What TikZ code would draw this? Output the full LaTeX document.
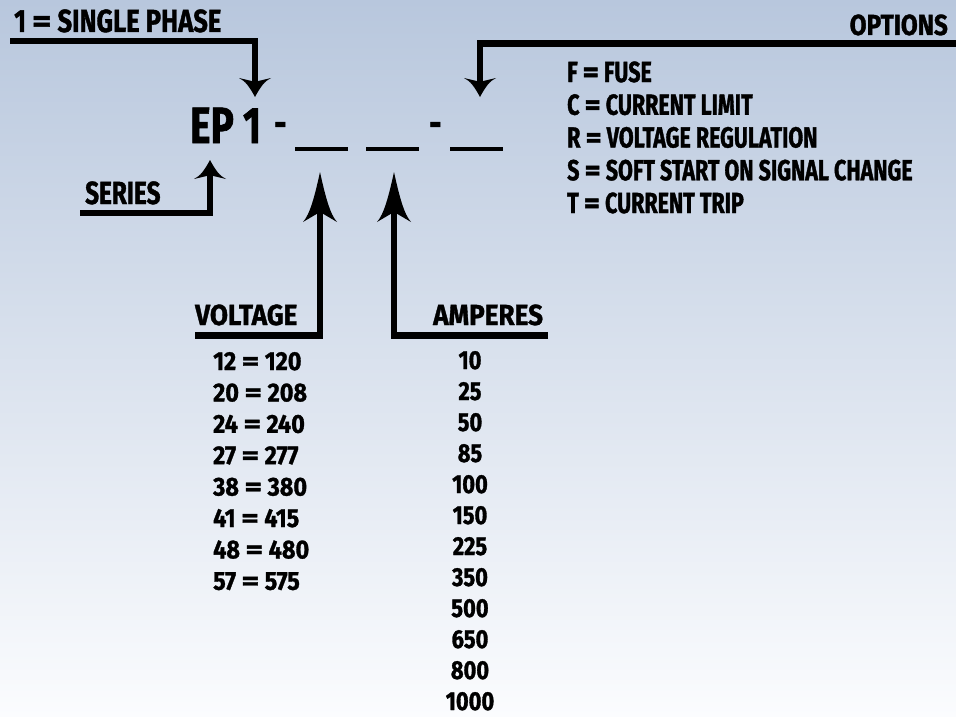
\documentclass[tikz,border=0pt]{standalone}
\usepackage{fontspec}
\usepackage{graphicx}
\newfontfamily\cfa{Fira Sans}[FakeStretch=0.76,FakeBold=1.2]
\newfontfamily\cfo{Fira Sans}[FakeStretch=0.74,FakeBold=1.2]
\newfontfamily\cfb{Fira Sans}[FakeStretch=0.80,FakeBold=1.2]
\newfontfamily\cfc{Fira Sans}[FakeStretch=0.84,FakeBold=1.2]
\newfontfamily\cfd{Fira Sans}[FakeStretch=0.90,FakeBold=1.2]
\usetikzlibrary{arrows.meta}
\pgfdeclarearrow{
  name = Spike,
  defaults = {length = 18pt, width = 32pt},
  setup code = {
    \pgfarrowssettipend{0pt}
    \pgfarrowssetlineend{-0.6\pgfarrowlength}
    \pgfarrowssetbackend{-\pgfarrowlength}
    \pgfarrowssavethe\pgfarrowlength
    \pgfarrowssavethe\pgfarrowwidth
  },
  drawing code = {
    \pgfpathmoveto{\pgfqpoint{0pt}{0pt}}
    \pgfpathcurveto{\pgfqpoint{-0.5\pgfarrowlength}{0.16\pgfarrowwidth}}{\pgfqpoint{-0.85\pgfarrowlength}{0.3\pgfarrowwidth}}{\pgfqpoint{-\pgfarrowlength}{0.5\pgfarrowwidth}}
    \pgfpathlineto{\pgfqpoint{-0.8\pgfarrowlength}{0pt}}
    \pgfpathlineto{\pgfqpoint{-\pgfarrowlength}{-0.5\pgfarrowwidth}}
    \pgfpathcurveto{\pgfqpoint{-0.85\pgfarrowlength}{-0.3\pgfarrowwidth}}{\pgfqpoint{-0.5\pgfarrowlength}{-0.16\pgfarrowwidth}}{\pgfqpoint{0pt}{0pt}}
    \pgfpathclose
    \pgfusepathqfill
  },
  parameters = {\the\pgfarrowlength,\the\pgfarrowwidth},
}
\newcommand\fsz[1]{\fontsize{#1}{#1}\selectfont}
\newcommand\eq{\scalebox{1.45}[1]{=}}
\definecolor{bgtop}{RGB}{184,199,221}
\definecolor{bgmid}{RGB}{213,221,235}
\definecolor{bgbot}{RGB}{251,252,254}
\begin{document}
\begin{tikzpicture}[x=1pt,y=-1pt,
  lbl/.style={inner sep=0pt, anchor=base west},
  conn/.style={line width=6.5pt, line join=miter},
  smallarrow/.style={conn, -{Spike[length=19pt,width=32pt]}},
  bigarrow/.style={conn, -{Spike[length=50pt,width=34pt]}},
  blank/.style={line width=3.5pt}]
\path[use as bounding box] (0,0) rectangle (956,717);
\shade[top color=bgtop, middle color=bgmid, bottom color=bgbot] (0,0) rectangle (956,717);

% titles
\node[lbl, font=\cfb\bfseries\fsz{32}] (sp) at (14,32) {1 \eq{} SINGLE PHASE};
\node[lbl, anchor=base east, font=\cfc\bfseries\fsz{29}] (opt) at (948,35) {OPTIONS};
\node[lbl, font=\cfa\bfseries\fsz{51}] (ep) at (190,143) {EP 1};
\node[lbl, font=\cfa\bfseries\fsz{40}] (d1) at (274,137) {-};
\node[lbl, font=\cfa\bfseries\fsz{40}] (d2) at (429,137) {-};
\node[lbl, font=\cfa\bfseries\fsz{32}] (ser) at (85,204) {SERIES};
\node[lbl, font=\cfd\bfseries\fsz{29}] (volt) at (195,325) {VOLTAGE};
\node[lbl, font=\cfd\bfseries\fsz{29}] (amp) at (433,325) {AMPERES};

% blanks
\coordinate (b1a) at (295,149); \coordinate (b1b) at (348,149);
\coordinate (b2a) at (366,149); \coordinate (b2b) at (419,149);
\coordinate (b3a) at (450,149); \coordinate (b3b) at (503,149);
\draw[blank] (b1a) -- (b1b);
\draw[blank] (b2a) -- (b2b);
\draw[blank] (b3a) -- (b3b);

% options list
\foreach \k/\t [count=\i from 0] in {F/FUSE, C/CURRENT LIMIT, R/VOLTAGE REGULATION, S/SOFT START ON SIGNAL CHANGE, T/CURRENT TRIP}
  \node[lbl, font=\cfo\bfseries\fsz{29}] (o\i) at (567,82+32.75*\i) {\k{} \eq{} \t};

% voltage list
\foreach \k/\t [count=\i from 0] in {12/120, 20/208, 24/240, 27/277, 38/380, 41/415, 48/480, 57/575}
  \node[lbl, font=\cfd\bfseries\fsz{26}] (v\i) at (213,370+31.4*\i) {\k{} \eq{} \t};

% amperes list
\foreach \t [count=\i from 0] in {10, 25, 50, 85, 100, 150, 225, 350, 500, 650, 800, 1000}
  \node[lbl, anchor=base, font=\cfc\bfseries\fsz{26}] (a\i) at (470,369+31.0*\i) {\t};

% connectors
\coordinate (spS) at (10,41);   \coordinate (spT) at (255,97);
\coordinate (opS) at (960,43.5); \coordinate (opT) at (480,97);
\coordinate (seS) at (80,213);  \coordinate (seT) at (210,160);
\coordinate (voS) at (195,335.5); \coordinate (voT) at (320,172);
\coordinate (amS) at (548,335.5); \coordinate (amT) at (394,172);
\draw[smallarrow] (spS) -| (spT);
\draw[smallarrow] (opS) -| (opT);
\draw[smallarrow] (seS) -| (seT);
\draw[bigarrow] (voS) -| (voT);
\draw[bigarrow] (amS) -| (amT);
\end{tikzpicture}
\end{document}
